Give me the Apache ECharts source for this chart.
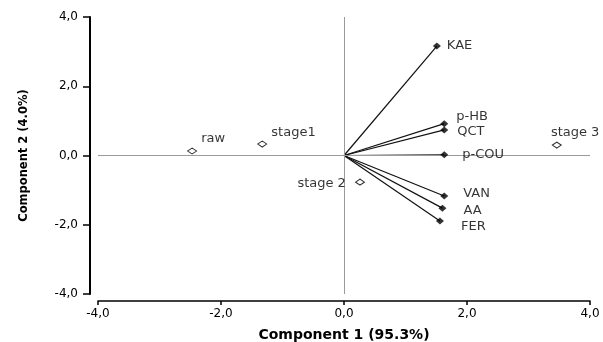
<!DOCTYPE html>
<html><head><meta charset="utf-8">
<script src="https://cdn.jsdelivr.net/npm/echarts@6/dist/echarts.min.js"></script>
<style>html,body{margin:0;padding:0;background:#fff}#c{width:603px;height:342px}</style>
</head><body><div id="c"></div>
<script>
// Object scores (open diamonds)
const objNames = ['raw', 'stage1', 'stage 2', 'stage 3'];
const objX = [-2.47, -1.33, 0.26, 3.46];
const objY = [0.13, 0.33, -0.77, 0.30];
// Variable loadings (filled diamonds with vectors)
const varNames = ['KAE', 'p-HB', 'QCT', 'p-COU', 'VAN', 'AA', 'FER'];
const varX = [1.51, 1.63, 1.63, 1.63, 1.63, 1.60, 1.56];
const varY = [3.16, 0.92, 0.74, 0.02, -1.17, -1.52, -1.89];
const ticks = [-4, -2, 0, 2, 4];

const objLabelPos = {
  'raw': {position: 'right', offset: [-1, -12]},
  'stage1': {position: 'right', offset: [-1, -11]},
  'stage 2': {position: 'left', offset: [-4, 1]},
  'stage 3': {position: 'right', offset: [-16, -12]}
};
const varLabelPos = {
  'KAE': {offset: [1, 0]},
  'p-HB': {offset: [3, -7]},
  'QCT': {offset: [4, 2]},
  'p-COU': {offset: [9, 0]},
  'VAN': {offset: [10, -2]},
  'AA': {offset: [12, 2]},
  'FER': {offset: [12, 6]}
};
const fmt = v => v.toFixed(1).replace('.', ',');
const font = '"DejaVu Sans", Verdana, sans-serif';

const series = [];
// vectors from origin to each loading
varNames.forEach((n, i) => {
  series.push({
    type: 'line', silent: true, symbol: 'none', animation: false,
    lineStyle: {color: '#111', width: 1.2},
    data: [[0, 0], [varX[i], varY[i]]], z: 3
  });
});
series.push({
  type: 'scatter', symbol: 'diamond', symbolSize: [8, 7], animation: false, z: 5,
  itemStyle: {color: '#000'},
  label: {show: true, position: 'right', color: '#000', fontSize: 13, fontFamily: font,
    formatter: p => p.data.name},
  data: varNames.map((n, i) => ({name: n, value: [varX[i], varY[i]],
    label: Object.assign({position: 'right'}, varLabelPos[n])}))
});
series.push({
  type: 'scatter', symbol: 'diamond', symbolSize: [9, 6], animation: false, z: 5,
  itemStyle: {color: '#fff', borderColor: '#000', borderWidth: 1},
  label: {show: true, color: '#000', fontSize: 13, fontFamily: font,
    formatter: p => p.data.name},
  data: objNames.map((n, i) => ({name: n, value: [objX[i], objY[i]],
    label: objLabelPos[n]})),
  markLine: {
    silent: true, symbol: 'none', animation: false,
    lineStyle: {color: '#9a9a9a', width: 1, type: 'solid'},
    label: {show: false},
    data: [{xAxis: 0}, {yAxis: 0}]
  }
});

const chart = echarts.init(document.getElementById('c'));
chart.setOption({
  animation: false,
  grid: {left: 98, right: 13, top: 17, bottom: 48, containLabel: false, outerBoundsMode: 'none'},
  xAxis: {
    type: 'value', min: -4, max: 4, interval: 2, offset: 7,
    name: 'Component 1 (95.3%)', nameLocation: 'middle', nameGap: 27,
    nameTextStyle: {fontWeight: 'bold', fontSize: 14, fontFamily: font, color: '#000'},
    axisLine: {onZero: false, lineStyle: {color: '#000', width: 1.5}},
    axisTick: {show: true, length: 4, lineStyle: {color: '#000', width: 1.5}},
    axisLabel: {formatter: fmt, fontSize: 12, fontFamily: font, color: '#000', margin: 7},
    splitLine: {show: false}
  },
  yAxis: {
    type: 'value', min: -4, max: 4, interval: 2, offset: 8,
    name: 'Component 2 (4.0%)', nameLocation: 'middle', nameGap: 60,
    nameTextStyle: {fontWeight: 'bold', fontSize: 11.5, fontFamily: font, color: '#000'},
    axisLine: {show: true, onZero: false, lineStyle: {color: '#000', width: 2}},
    axisTick: {show: true, length: 7, lineStyle: {color: '#000', width: 1.5}},
    axisLabel: {formatter: fmt, fontSize: 12, fontFamily: font, color: '#000', margin: 12},
    splitLine: {show: false}
  },
  series: series
});
</script></body></html>
